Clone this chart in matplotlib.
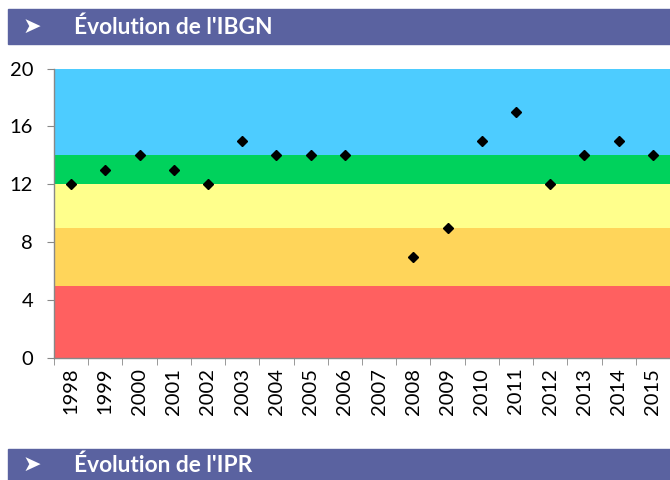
import matplotlib
matplotlib.use("Agg")
import matplotlib.pyplot as plt
from matplotlib.patches import Rectangle

# ---- data ----
years = [str(y) for y in range(1998, 2016)]
ibgn = [12, 13, 14, 13, 12, 15, 14, 14, 14, None, 7, 9, 15, 17, 12, 14, 15, 14]

# quality classes (lower bound, upper bound, colour)
band_low = [0, 5, 9, 12, 14]
band_high = [5, 9, 12, 14, 20]
band_colors = ["#FF6060", "#FFD55A", "#FFFF8C", "#00D25C", "#4DCCFF"]

yticks = [0, 4, 8, 12, 16, 20]

plt.rcParams["font.family"] = ["Lato", "DejaVu Sans"]

fig = plt.figure(figsize=(6.7, 4.8), dpi=100)
ax = fig.add_axes([54 / 670, 1 - 358 / 480, 616 / 670, 289.5 / 480])

for lo, hi, c in zip(band_low, band_high, band_colors):
    ax.axhspan(lo, hi, color=c, lw=0, zorder=0)

xs = [i for i, v in enumerate(ibgn) if v is not None]
vs = [v for v in ibgn if v is not None]
ax.plot(xs, vs, ls="none", marker="D", ms=5.5, color="black", zorder=3)

ax.set_xlim(-0.5, len(years) - 0.5)
ax.set_ylim(0, 20)
ax.set_yticks(yticks)
ax.set_yticklabels([str(t) for t in yticks], fontsize=14.5)
ax.set_xticks(range(len(years)))
ax.set_xticklabels(years, rotation=90, fontsize=14.5)
ax.set_xticks([i - 0.5 for i in range(len(years) + 1)], minor=True)
ax.tick_params(axis="x", which="major", length=0, pad=7)
ax.tick_params(axis="x", which="minor", length=5, color="#888888")
ax.tick_params(axis="y", length=5, color="#888888", pad=10)
for s in ["top", "right"]:
    ax.spines[s].set_visible(False)
for s in ["left", "bottom"]:
    ax.spines[s].set_color("#888888")
    ax.spines[s].set_linewidth(1)

# section header bars
head_color = "#5A62A0"
fig.patches.append(Rectangle((8 / 670, 1 - 44 / 480), 1, 35 / 480,
                             transform=fig.transFigure, color=head_color, zorder=0))
fig.patches.append(Rectangle((8 / 670, 0), 1, 31 / 480,
                             transform=fig.transFigure, color=head_color, zorder=0))
for y, title in [(1 - 27 / 480, "Évolution de l'IBGN"), (15 / 480, "Évolution de l'IPR")]:
    fig.text(23 / 670, y, "➤", color="white", fontsize=16,
             va="center", ha="left", family=["DejaVu Sans"])
    fig.text(74 / 670, y, title, color="white",
             fontsize=16.4, fontweight="bold", va="center", ha="left")

fig.savefig("out.png", dpi=100)
